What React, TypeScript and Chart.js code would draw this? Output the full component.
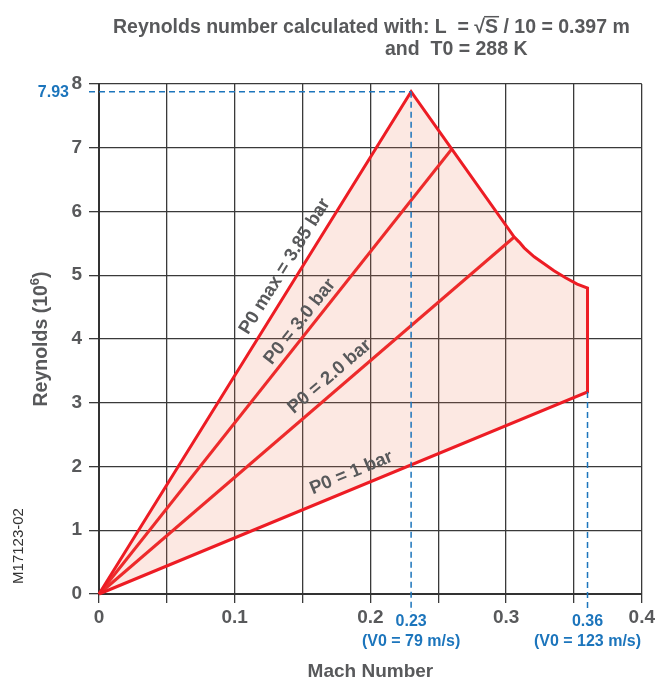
import React, { useEffect, useRef } from 'react';
import { Chart, registerables } from 'chart.js';

Chart.register(...registerables);

// ---------- data ----------
const X_TICK_LABELS = ['0', '0.1', '0.2', '0.3', '0.4'];
const Y_TICK_LABELS = ['0', '1', '2', '3', '4', '5', '6', '7', '8'];

// Operating envelope (closed outline: P0 max line, upper limit, speed limit, P0 = 1 bar line)
const ENVELOPE_X = [0, 0.23, 0.26, 0.306, 0.3097, 0.3133, 0.317, 0.3207, 0.328, 0.3353, 0.3438, 0.3524, 0.36, 0.36, 0];
const ENVELOPE_Y = [0, 7.88, 6.98, 5.6, 5.52, 5.43, 5.36, 5.29, 5.18, 5.07, 4.96, 4.86, 4.8, 3.17, 0];

const P0_3_X = [0, 0.26];
const P0_3_Y = [0, 6.98];
const P0_2_X = [0, 0.306];
const P0_2_Y = [0, 5.6];

const LINE_LABELS = ['P0 max = 3.85 bar', 'P0 = 3.0 bar', 'P0 = 2.0 bar', 'P0 = 1 bar'];
const LINE_LABEL_X = [0.137, 0.148, 0.17, 0.186];
const LINE_LABEL_Y = [5.14, 4.27, 3.41, 1.9];

const MAX_RE_VALUE = 7.88;
const MAX_RE_TEXT = '7.93';
const REF_MACH = [0.23, 0.36];
const REF_MACH_TEXT = ['0.23', '0.36'];
const REF_SPEED_TEXT = ['(V0 = 79 m/s)', '(V0 = 123 m/s)'];
const REF_MACH_LOW_Y = [7.88, 3.17];

const TITLE_PRE = 'Reynolds number calculated with: L  = \u221A';
const TITLE_S = 'S';
const TITLE_POST = ' / 10 = 0.397 m';
const TITLE_LINE2 = 'and  T0 = 288 K';
const X_TITLE = 'Mach Number';
const Y_TITLE_MAIN = 'Reynolds (10';
const Y_TITLE_SUP = '6';
const Y_TITLE_END = ')';
const FIG_ID = 'M17123-02';

const RED = '#ed1c24';
const BLUE = '#1c75bc';
const GRAY = '#58595b';
const GRID = '#3a3a3a';
const FONT = '"Liberation Sans", Arial, Helvetica, sans-serif';

const toPts = (xs: number[], ys: number[]) => xs.map((x, i) => ({ x, y: ys[i] }));

const annotationPlugin = {
  id: 'annotations',
  afterDatasetsDraw(chart: any) {
    const ctx = chart.ctx;
    const xs = chart.scales.x;
    const ys = chart.scales.y;
    ctx.save();
    // blue dashed reference lines
    ctx.strokeStyle = BLUE;
    ctx.lineWidth = 1.5;
    ctx.setLineDash([6, 4]);
    const yMax = ys.getPixelForValue(MAX_RE_VALUE);
    const x023 = xs.getPixelForValue(REF_MACH[0]);
    ctx.beginPath();
    ctx.moveTo(chart.chartArea.left - 10, yMax);
    ctx.lineTo(x023, yMax);
    ctx.stroke();
    REF_MACH.forEach((m, i) => {
      const px = xs.getPixelForValue(m);
      ctx.beginPath();
      ctx.moveTo(px, ys.getPixelForValue(REF_MACH_LOW_Y[i]));
      ctx.lineTo(px, chart.chartArea.bottom + 18);
      ctx.stroke();
    });
    ctx.setLineDash([]);

    // line labels
    ctx.fillStyle = GRAY;
    ctx.font = `bold 18.5px ${FONT}`;
    ctx.textAlign = 'center';
    ctx.textBaseline = 'middle';
    const ends = [
      [ENVELOPE_X[1], ENVELOPE_Y[1]],
      [P0_3_X[1], P0_3_Y[1]],
      [P0_2_X[1], P0_2_Y[1]],
      [ENVELOPE_X[ENVELOPE_X.length - 2], ENVELOPE_Y[ENVELOPE_Y.length - 2]],
    ];
    const ox = xs.getPixelForValue(0);
    const oy = ys.getPixelForValue(0);
    LINE_LABELS.forEach((t, i) => {
      const ex = xs.getPixelForValue(ends[i][0]);
      const ey = ys.getPixelForValue(ends[i][1]);
      const ang = Math.atan2(ey - oy, ex - ox);
      ctx.save();
      ctx.translate(xs.getPixelForValue(LINE_LABEL_X[i]), ys.getPixelForValue(LINE_LABEL_Y[i]));
      ctx.rotate(ang);
      ctx.fillText(t, 0, 0);
      ctx.restore();
    });

    // blue texts
    ctx.fillStyle = BLUE;
    ctx.font = `bold 16px ${FONT}`;
    ctx.textAlign = 'right';
    ctx.fillText(MAX_RE_TEXT, chart.chartArea.left - 30, yMax + 1);
    ctx.textAlign = 'center';
    REF_MACH.forEach((m, i) => {
      const px = xs.getPixelForValue(m);
      ctx.fillText(REF_MACH_TEXT[i], px, chart.chartArea.bottom + 28);
      ctx.fillText(REF_SPEED_TEXT[i], px, chart.chartArea.bottom + 48);
    });

    // title
    ctx.fillStyle = GRAY;
    ctx.font = `bold 19.5px ${FONT}`;
    ctx.textAlign = 'left';
    ctx.textBaseline = 'alphabetic';
    const full = TITLE_PRE + TITLE_S + TITLE_POST;
    const wFull = ctx.measureText(full).width;
    const x0 = 113;
    const base1 = 33;
    ctx.fillText(full, x0, base1);
    const wPre = ctx.measureText(TITLE_PRE).width;
    const wS = ctx.measureText(TITLE_S).width;
    ctx.strokeStyle = GRAY;
    ctx.lineWidth = 1.5;
    ctx.beginPath();
    ctx.moveTo(x0 + wPre - 1, base1 - 16.3);
    ctx.lineTo(x0 + wPre + wS + 1, base1 - 16.3);
    ctx.stroke();
    ctx.fillText(TITLE_LINE2, 385, 55);
    void wFull;

    // axis titles
    const cx = (chart.chartArea.left + chart.chartArea.right) / 2;
    ctx.font = `bold 19px ${FONT}`;
    ctx.textAlign = 'center';
    ctx.textBaseline = 'middle';
    ctx.fillText(X_TITLE, cx, 672);

    ctx.save();
    ctx.translate(40, (chart.chartArea.top + chart.chartArea.bottom) / 2);
    ctx.rotate(-Math.PI / 2);
    ctx.textAlign = 'left';
    ctx.textBaseline = 'alphabetic';
    ctx.font = `bold 19.5px ${FONT}`;
    const wMain = ctx.measureText(Y_TITLE_MAIN).width;
    ctx.font = `bold 13px ${FONT}`;
    const wSup = ctx.measureText(Y_TITLE_SUP).width;
    ctx.font = `bold 19.5px ${FONT}`;
    const wEnd = ctx.measureText(Y_TITLE_END).width;
    const total = wMain + wSup + wEnd;
    let tx = -total / 2;
    ctx.fillText(Y_TITLE_MAIN, tx, 7);
    tx += wMain;
    ctx.font = `bold 13px ${FONT}`;
    ctx.fillText(Y_TITLE_SUP, tx, -1);
    tx += wSup;
    ctx.font = `bold 19.5px ${FONT}`;
    ctx.fillText(Y_TITLE_END, tx, 7);
    ctx.restore();

    // figure id
    ctx.save();
    ctx.translate(19, 546);
    ctx.rotate(-Math.PI / 2);
    ctx.fillStyle = '#333';
    ctx.font = `15px ${FONT}`;
    ctx.textAlign = 'center';
    ctx.textBaseline = 'middle';
    ctx.fillText(FIG_ID, 0, 0);
    ctx.restore();

    ctx.restore();
  },
};

export default function App() {
  const ref = useRef<HTMLCanvasElement>(null);
  useEffect(() => {
    if (!ref.current) return;
    const chart = new Chart(ref.current, {
      type: 'line',
      data: {
        datasets: [
          {
            data: toPts(ENVELOPE_X, ENVELOPE_Y),
            borderColor: RED,
            borderWidth: 3,
            backgroundColor: 'rgba(238, 120, 84, 0.17)',
            fill: 'shape',
            pointRadius: 0,
            tension: 0,
            borderJoinStyle: 'miter',
            clip: false,
          },
          {
            data: toPts(P0_3_X, P0_3_Y),
            borderColor: RED,
            borderWidth: 3,
            fill: false,
            pointRadius: 0,
            clip: false,
          },
          {
            data: toPts(P0_2_X, P0_2_Y),
            borderColor: RED,
            borderWidth: 3,
            fill: false,
            pointRadius: 0,
            clip: false,
          },
        ],
      },
      options: {
        responsive: false,
        animation: false,
        devicePixelRatio: 1,
        layout: { padding: { top: 84, right: 13, left: 0, bottom: 0 } },
        plugins: { legend: { display: false }, tooltip: { enabled: false }, title: { display: false } },
        scales: {
          x: {
            type: 'linear',
            min: 0,
            max: 0.4,
            afterFit: (s: any) => { s.height = 88; },
            ticks: {
              stepSize: 0.05,
              autoSkip: false,
              maxRotation: 0,
              padding: 3,
              color: GRAY,
              font: { family: FONT, size: 19, weight: 'bold' },
              callback: (_v: any, i: number) => (i % 2 === 0 ? X_TICK_LABELS[i / 2] : ''),
            },
            grid: { color: GRID, lineWidth: 1.3, tickLength: 9 },
            border: { color: '#333', width: 2 },
          },
          y: {
            min: 0,
            max: 8,
            afterFit: (s: any) => { s.width = 99; },
            ticks: {
              stepSize: 1,
              padding: 7,
              color: GRAY,
              font: { family: FONT, size: 19, weight: 'bold' },
              callback: (_v: any, i: number) => Y_TICK_LABELS[i],
            },
            grid: { color: GRID, lineWidth: 1.3, tickLength: 10 },
            border: { color: '#333', width: 2 },
          },
        },
      },
      plugins: [annotationPlugin],
    } as any);
    return () => chart.destroy();
  }, []);
  return (
    <div style={{ position: 'fixed', left: 0, top: 0, width: 658, height: 682, background: '#fff' }}>
      <canvas ref={ref} width={658} height={682} style={{ width: 658, height: 682, display: 'block' }} />
    </div>
  );
}
